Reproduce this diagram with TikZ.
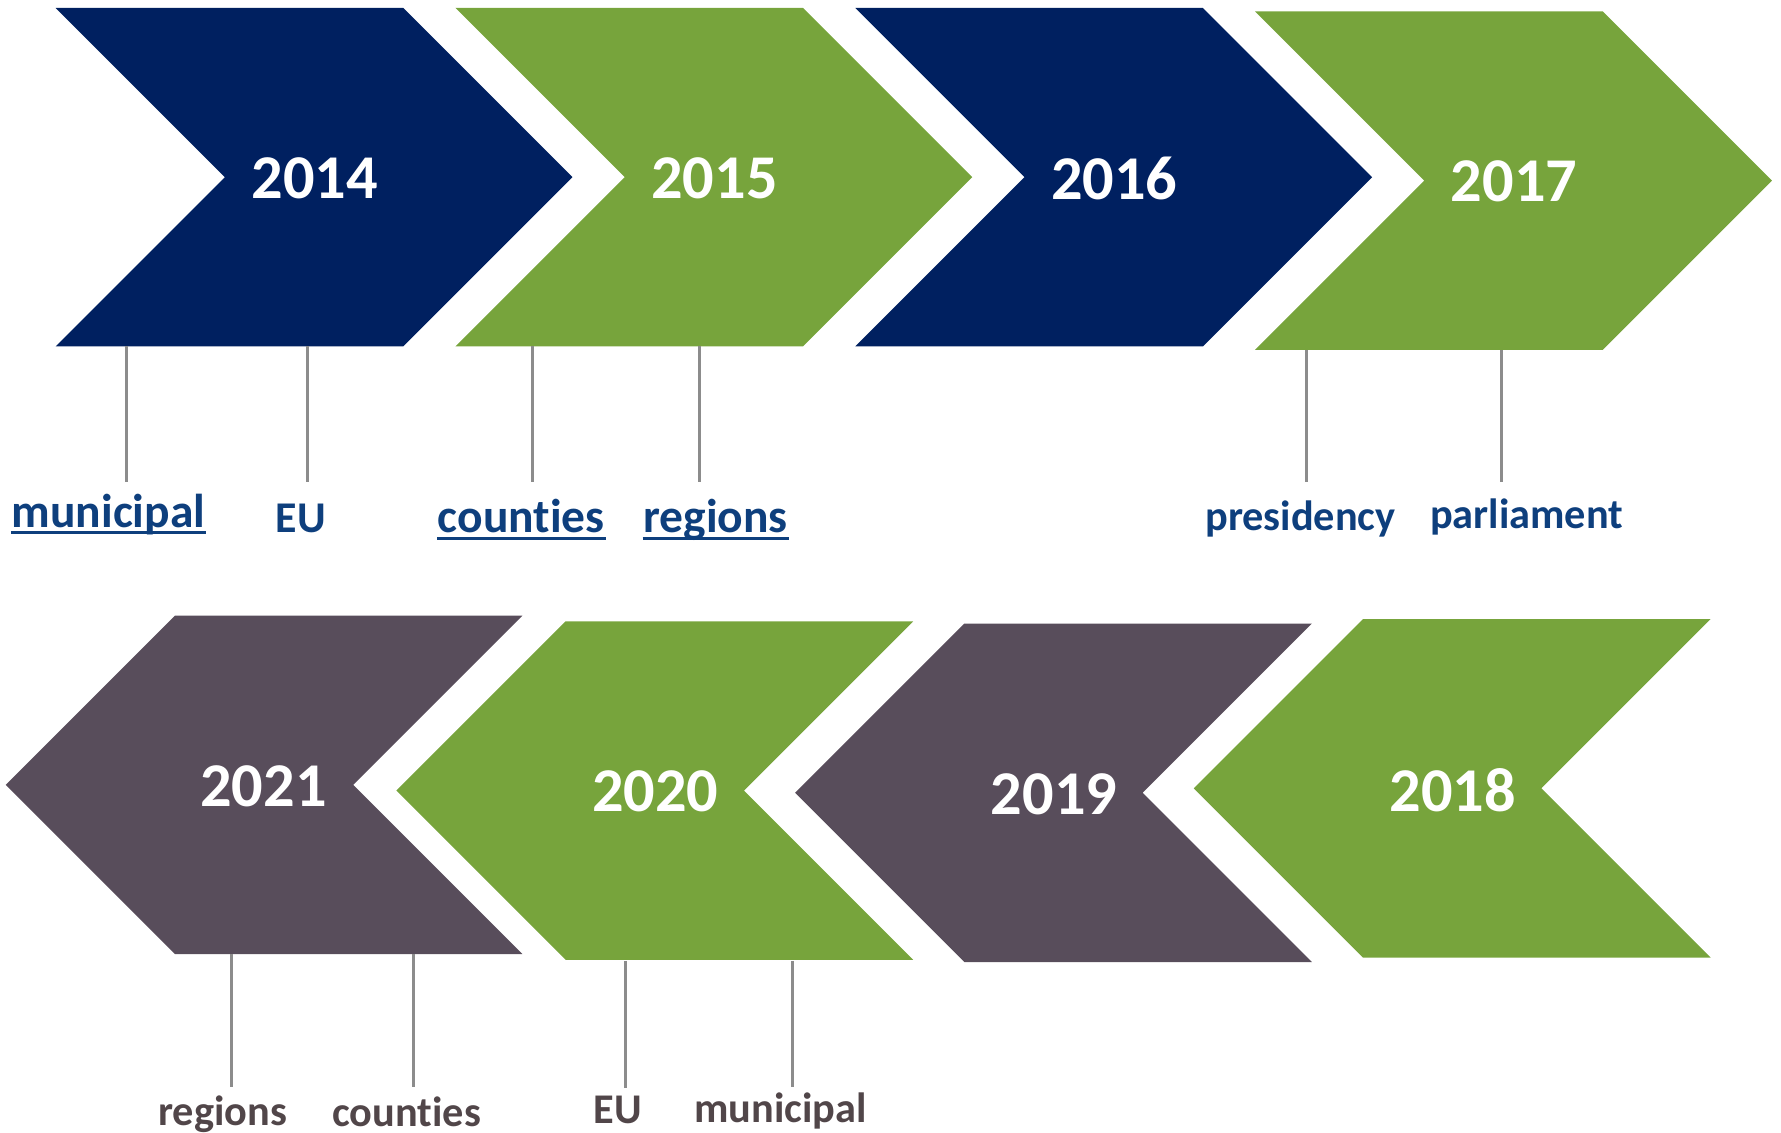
\documentclass[tikz,border=0pt]{standalone}
\usepackage{fontspec}
\setmainfont{Carlito}[Ligatures=NoCommon]
\definecolor{navy}{HTML}{002060}
\definecolor{grn}{HTML}{77A43C}
\definecolor{plum}{HTML}{584D5B}
\definecolor{lblue}{HTML}{0E3F7D}
\definecolor{lgrey}{HTML}{514649}
\definecolor{stem}{HTML}{8C8C8C}
\newcommand\chevRight[3]{\fill[#3] (#1,#2) -- ++(306,0) -- ++(149,149) -- ++(-149,149) -- ++(-306,0) -- ++(149,-149) -- cycle;}
\newcommand\chevLeft[3]{\fill[#3] (#1,#2) -- ++(306,0) -- ++(-149,149) -- ++(149,149) -- ++(-306,0) -- ++(-149,-149) -- cycle;}
\begin{document}
\begin{tikzpicture}[x=0.1mm,y=-0.1mm,
  year/.style={text=white,font=\fontsize{15.6}{18}\selectfont\bfseries,inner sep=0},
  toplab/.style={text=lblue,font=\fontsize{11.9}{14}\selectfont\bfseries,inner sep=0,anchor=base},
  toplabs/.style={text=lblue,font=\fontsize{10.6}{13}\selectfont\bfseries,inner sep=0,anchor=base},
  botlab/.style={text=lgrey,font=\fontsize{10.6}{13}\selectfont\bfseries,inner sep=0,anchor=base},
  stemline/.style={draw=stem,line width=0.27mm},
  uline/.style={draw=lblue,line width=0.22mm}]
\useasboundingbox (0,0) rectangle (1568,997);
% top row chevrons
\chevRight{49}{7}{navy}
\chevRight{401}{7}{grn}
\chevRight{753}{7}{navy}
\chevRight{1105}{10}{grn}
% bottom row chevrons
\chevLeft{154}{542}{plum}
\chevLeft{498}{547}{grn}
\chevLeft{849}{549}{plum}
\chevLeft{1200}{545}{grn}
% years
\node[year] (y14) at (277,157) {2014};
\node[year] (y15) at (629,157) {2015};
\node[year] (y16) at (981,157) {2016};
\node[year] (y17) at (1333,160) {2017};
\node[year] (y21) at (232,692) {2021};
\node[year] (y20) at (577,697) {2020};
\node[year] (y19) at (928,699) {2019};
\node[year] (y18) at (1279,696) {2018};
% stems: coordinates
\coordinate (s1a) at (111,305); \coordinate (s1b) at (111,424);
\coordinate (s2a) at (271,305); \coordinate (s2b) at (271,424);
\coordinate (s3a) at (469,305); \coordinate (s3b) at (469,424);
\coordinate (s4a) at (616,305); \coordinate (s4b) at (616,424);
\coordinate (s5a) at (1150,308); \coordinate (s5b) at (1150,424);
\coordinate (s6a) at (1322,308); \coordinate (s6b) at (1322,424);
\coordinate (s7a) at (204,840); \coordinate (s7b) at (204,957);
\coordinate (s8a) at (364,840); \coordinate (s8b) at (364,957);
\coordinate (s9a) at (551,846); \coordinate (s9b) at (551,958);
\coordinate (s10a) at (698,846); \coordinate (s10b) at (698,957);
\foreach \i in {1,...,10}{\draw[stemline] (s\i a) -- (s\i b);}
% labels
\node[toplab] (l1) at (95.5,464) {municipal};
\node[toplab,font=\fontsize{11}{13}\selectfont\bfseries] (l2) at (265,469) {EU};
\node[toplab] (l3) at (459,469) {counties};
\node[toplab] (l4) at (630,469) {regions};
\node[toplabs] (l5) at (1145,467) {presidency};
\node[toplabs] (l6) at (1344,465) {parliament};
\node[botlab] (l7) at (196,991) {regions};
\node[botlab] (l8) at (358,992) {counties};
\node[botlab] (l9) at (544,989) {EU};
\node[botlab] (l10) at (687,988) {municipal};
% underlines
\foreach \n in {l1,l3,l4}{\draw[uline] ([yshift=-0.5mm]\n.base west) -- ([yshift=-0.5mm]\n.base east);}
\end{tikzpicture}
\end{document}
